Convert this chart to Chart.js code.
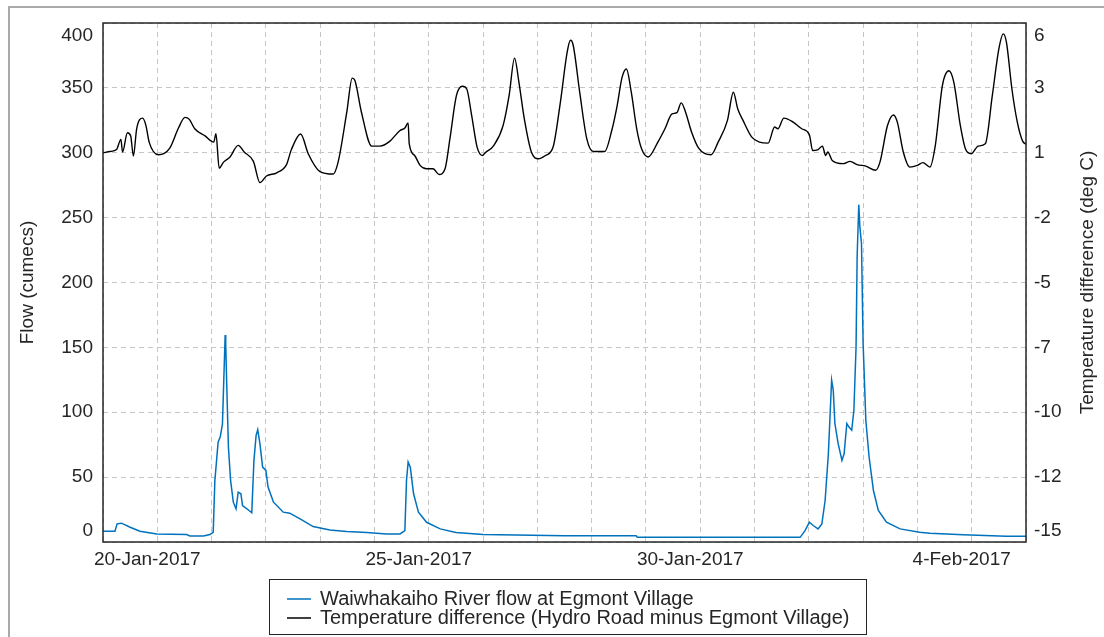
<!DOCTYPE html>
<html>
<head>
<meta charset="utf-8">
<title>Waiwhakaiho River flow and temperature difference</title>
<script src="https://cdn.jsdelivr.net/npm/chart.js@4.4.1/dist/chart.umd.min.js"></script>
<style>
  html, body { margin: 0; padding: 0; background: #fff; }
  #wrap { position: relative; width: 1104px; height: 637px; }
</style>
</head>
<body>
<div id="wrap"><canvas id="chart" width="1104" height="637"></canvas></div>
<script>
// time axis is in days from 19-Jan-2017 00:00
const dateTickDays   = [1, 6, 11, 16];
const dateTickLabels = ['20-Jan-2017', '25-Jan-2017', '30-Jan-2017', '4-Feb-2017'];

const flowTicks = [0, 50, 100, 150, 200, 250, 300, 350, 400];
// right axis shares the left grid, so its ticks fall on odd values and are shown rounded
const tempTickValues = [-15, -12.375, -9.75, -7.125, -4.5, -1.875, 0.75, 3.375, 6];
const tempTickLabels = ['-15', '-12', '-10', '-7', '-5', '-2', '1', '3', '6'];

const flowTitle = 'Flow (cumecs)';
const tempTitle = 'Temperature difference (deg C)';
const flowLabel = 'Waiwhakaiho River flow at Egmont Village';
const tempLabel = 'Temperature difference (Hydro Road minus Egmont Village)';

// river flow, cumecs
const flowDays = [0.00, 0.22, 0.26, 0.34, 0.50, 0.68, 0.99, 1.54, 1.60, 1.85, 1.97, 2.03, 2.06, 2.12, 2.16, 2.20,
  2.25, 2.26, 2.28, 2.31, 2.35, 2.40, 2.45, 2.49, 2.54, 2.57, 2.65, 2.74, 2.78, 2.82, 2.85, 2.89, 2.94, 3.00,
  3.04, 3.14, 3.32, 3.44, 3.63, 3.87, 4.18, 4.49, 4.86, 5.22, 5.47, 5.56, 5.59, 5.62, 5.66, 5.72, 5.81, 5.96,
  6.21, 6.50, 7.00, 7.90, 8.50, 9.82, 9.84, 12.84, 12.93, 13.01, 13.08, 13.17, 13.24, 13.30, 13.36, 13.39,
  13.42, 13.45, 13.48, 13.54, 13.61, 13.65, 13.70, 13.74, 13.79, 13.83, 13.87, 13.89, 13.92, 13.94, 13.97,
  14.00, 14.05, 14.11, 14.19, 14.28, 14.43, 14.68, 15.04, 15.23, 15.84, 16.64, 17.00];
const flowVals = [8.3, 8.3, 14.0, 14.5, 11.4, 8.3, 6.2, 5.7, 4.7, 4.7, 5.7, 7.5, 47, 77, 81, 91,
  159.5, 153, 119.6, 73, 47.5, 30.7, 25.6, 38.4, 37.2, 28.1, 25.6, 22.5, 62.9, 82.2, 86.6, 75.8, 57.7, 55.2,
  42.3, 30.7, 23.0, 22.2, 17.8, 11.9, 9.3, 8.0, 7.3, 6.2, 6.2, 8.8, 47.4, 61.6, 57.7, 37.2, 23.0, 15.2,
  10.1, 7.3, 5.7, 5.2, 4.9, 4.9, 3.6, 3.6, 8.8, 15.2, 12.7, 10.1, 14.0, 32, 68, 96.4,
  124.7, 117, 91.3, 75.8, 62.9, 68, 91.3, 88.6, 86.1, 101.5, 150.5, 220, 260, 243, 230,
  153, 93.8, 65.5, 39.7, 24.3, 15.2, 10.1, 7.5, 6.7, 5.5, 4.4, 4.4];

// temperature difference, deg C
const tempDays = [0.00, 0.13, 0.25, 0.33, 0.36, 0.45, 0.51, 0.56, 0.62, 0.73, 0.79, 0.85, 1.02, 1.23, 1.39, 1.51,
  1.59, 1.69, 1.88, 2.04, 2.08, 2.14, 2.22, 2.34, 2.49, 2.60, 2.77, 2.89, 3.01, 3.20, 3.38, 3.47, 3.64, 3.78,
  3.99, 4.24, 4.33, 4.49, 4.59, 4.64, 4.76, 4.95, 5.10, 5.28, 5.47, 5.56, 5.62, 5.64, 5.74, 5.84, 5.96, 6.08,
  6.19, 6.30, 6.39, 6.51, 6.62, 6.70, 6.79, 6.89, 6.99, 7.04, 7.20, 7.37, 7.48, 7.58, 7.66, 7.76, 7.89, 8.02,
  8.15, 8.29, 8.42, 8.55, 8.61, 8.66, 8.78, 8.91, 9.03, 9.24, 9.37, 9.47, 9.56, 9.64, 9.73, 9.83, 9.92, 10.04,
  10.22, 10.35, 10.48, 10.57, 10.65, 10.73, 10.84, 10.97, 11.20, 11.33, 11.50, 11.61, 11.69, 11.79, 11.95,
  12.09, 12.25, 12.37, 12.43, 12.54, 12.71, 12.87, 13.01, 13.07, 13.17, 13.25, 13.31, 13.35, 13.43, 13.63,
  13.76, 13.89, 14.05, 14.23, 14.31, 14.45, 14.56, 14.63, 14.74, 14.86, 15.00, 15.10, 15.23, 15.33, 15.46,
  15.58, 15.67, 15.79, 15.89, 15.99, 16.12, 16.25, 16.38, 16.50, 16.58, 16.64, 16.74, 16.84, 16.94, 17.00];
const tempVals = [0.75, 0.80, 0.88, 1.29, 0.78, 1.56, 1.43, 0.62, 1.72, 2.15, 1.86, 1.18, 0.67, 0.94, 1.75, 2.18,
  2.10, 1.72, 1.43, 1.18, 1.52, 0.13, 0.37, 0.58, 1.05, 0.78, 0.40, -0.46, -0.19, -0.06, 0.27, 0.88, 1.51, 0.71,
  0.00, -0.11, 0.37, 2.39, 3.77, 3.67, 2.39, 1.02, 1.02, 1.21, 1.65, 1.75, 1.96, 1.12, 0.64, 0.24, 0.10, 0.10,
  -0.13, 0.10, 1.32, 3.07, 3.44, 3.33, 2.26, 0.98, 0.64, 0.75, 1.05, 1.86, 3.07, 4.58, 3.61, 2.12, 0.78, 0.51,
  0.64, 0.98, 2.73, 4.83, 5.30, 5.10, 3.20, 1.32, 0.80, 0.80, 1.65, 2.66, 3.80, 4.14, 3.20, 1.72, 0.91, 0.58,
  1.18, 1.72, 2.32, 2.37, 2.77, 2.39, 1.59, 0.94, 0.67, 1.18, 2.05, 3.20, 2.53, 2.05, 1.38,
  1.18, 1.14, 1.79, 1.72, 2.15, 1.99, 1.72, 1.48, 0.84, 0.88, 1.02, 0.64, 0.78, 0.44, 0.31,
  0.40, 0.27, 0.21, 0.04, 0.37, 1.86, 2.28, 1.99, 0.78, 0.17, 0.24, 0.35, 0.17, 1.05, 3.47,
  4.07, 3.61, 1.86, 0.88, 0.71, 1.02, 1.11, 3.07, 4.95, 5.56, 5.22, 3.34, 1.99, 1.21, 1.10];

const FONT = '"Liberation Sans", Arial, Helvetica, sans-serif';
const INK = '#262626';
const GRID = '#c6c6c6';

const pts = (xs, ys) => xs.map((x, i) => ({ x, y: ys[i] }));
const days = [];
for (let d = 0; d <= 17; d++) days.push(d);

// frame, plot box, y tick labels, axis titles and the boxed legend
const decor = {
  id: 'decor',
  beforeDraw(chart) {
    const { ctx, width, height } = chart;
    ctx.save();
    ctx.fillStyle = '#fff';
    ctx.fillRect(0, 0, width, height);
    ctx.fillStyle = '#a9a9a9';
    ctx.fillRect(8, 6, width - 8, 2);
    ctx.fillRect(8, 6, 2, height - 6);
    ctx.restore();
  },
  afterDraw(chart) {
    const { ctx, chartArea: a } = chart;
    const yl = chart.scales.yFlow, yr = chart.scales.yTemp;
    ctx.save();

    ctx.strokeStyle = INK;
    ctx.lineWidth = 1.5;
    ctx.strokeRect(a.left, a.top, a.right - a.left, a.bottom - a.top);

    // end labels are nudged inside the box
    const clampY = y => Math.min(Math.max(y, a.top + 13), a.bottom - 11);
    ctx.font = '19px ' + FONT;
    ctx.fillStyle = INK;
    ctx.textBaseline = 'middle';
    ctx.textAlign = 'right';
    flowTicks.forEach(v => ctx.fillText(String(v), a.left - 10, clampY(yl.getPixelForValue(v))));
    ctx.textAlign = 'left';
    tempTickValues.forEach((v, i) => ctx.fillText(tempTickLabels[i], a.right + 8, clampY(yr.getPixelForValue(v))));

    const vtitle = (text, x) => {
      ctx.save();
      ctx.translate(x, (a.top + a.bottom) / 2);
      ctx.rotate(-Math.PI / 2);
      ctx.textAlign = 'center';
      ctx.fillText(text, 0, 0);
      ctx.restore();
    };
    vtitle(flowTitle, 28);
    vtitle(tempTitle, 1088);

    // legend
    const lx = 269.5, ly = 579.5, lw = 597, lh = 55;
    ctx.fillStyle = '#fff';
    ctx.fillRect(lx, ly, lw, lh);
    ctx.strokeStyle = INK;
    ctx.lineWidth = 1;
    ctx.strokeRect(lx, ly, lw, lh);
    ctx.font = '20px ' + FONT;
    ctx.textAlign = 'left';
    chart.data.datasets.forEach((ds, i) => {
      const cy = 599 + i * 19;
      ctx.strokeStyle = ds.borderColor;
      ctx.lineWidth = 1.5;
      ctx.beginPath();
      ctx.moveTo(287, cy);
      ctx.lineTo(311, cy);
      ctx.stroke();
      ctx.fillStyle = INK;
      ctx.fillText(ds.label, 320, cy);
    });
    ctx.restore();
  }
};

new Chart(document.getElementById('chart'), {
  type: 'line',
  data: {
    datasets: [
      { label: flowLabel, data: pts(flowDays, flowVals), yAxisID: 'yFlow',
        borderColor: '#0072bd', borderWidth: 1.5, pointRadius: 0, tension: 0, fill: false },
      { label: tempLabel, data: pts(tempDays, tempVals), yAxisID: 'yTemp',
        borderColor: '#000000', borderWidth: 1.4, pointRadius: 0, cubicInterpolationMode: 'monotone', fill: false }
    ]
  },
  options: {
    responsive: false,
    animation: false,
    devicePixelRatio: 1,
    events: [],
    layout: { padding: { top: 23, left: 0, right: 0, bottom: 0 } },
    plugins: { legend: { display: false }, tooltip: { enabled: false } },
    scales: {
      x: {
        type: 'linear', min: 0, max: 17,
        afterBuildTicks: s => { s.ticks = days.map(v => ({ value: v })); },
        afterFit: s => { s.height = 95; },
        grid: { color: GRID, lineWidth: 1, drawTicks: false },
        border: { display: false, dash: [5, 4] },
        ticks: {
          autoSkip: false, maxRotation: 0, minRotation: 0, labelOffset: -10, padding: 6,
          color: INK, font: { family: FONT, size: 19 },
          callback: v => { const i = dateTickDays.indexOf(v); return i < 0 ? '' : dateTickLabels[i]; }
        }
      },
      yFlow: {
        type: 'linear', position: 'left', min: 0, max: 400,
        afterBuildTicks: s => { s.ticks = flowTicks.map(v => ({ value: v })); },
        afterFit: s => { s.width = 103; },
        grid: { color: GRID, lineWidth: 1, drawTicks: false },
        border: { display: false, dash: [5, 4] },
        ticks: { display: false }
      },
      yTemp: {
        type: 'linear', position: 'right', min: -15, max: 6,
        afterBuildTicks: s => { s.ticks = tempTickValues.map(v => ({ value: v })); },
        afterFit: s => { s.width = 78; },
        grid: { display: false, drawTicks: false },
        border: { display: false },
        ticks: { display: false }
      }
    }
  },
  plugins: [decor]
});
</script>
</body>
</html>
